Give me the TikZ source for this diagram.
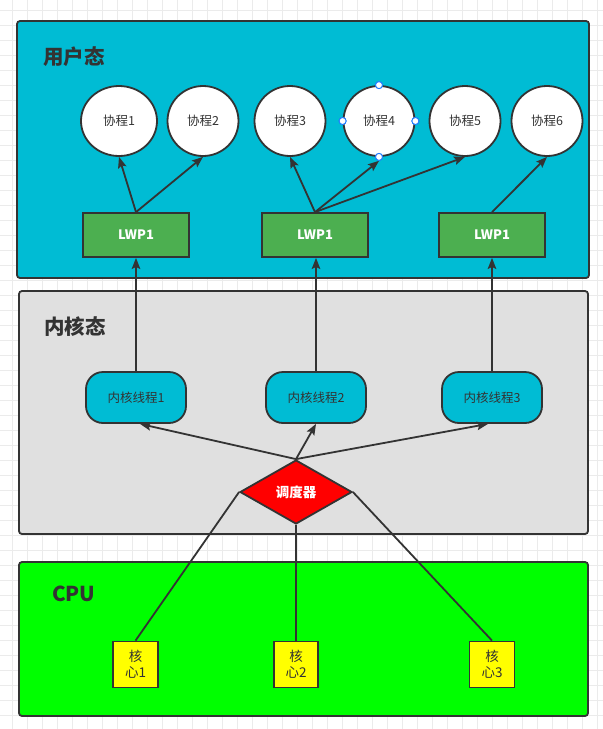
\documentclass[tikz,border=0pt]{standalone}
\usepackage{fontspec}
\setmainfont{Noto Sans CJK SC}
\usetikzlibrary{shapes.geometric,arrows.meta}
\definecolor{stroke}{HTML}{333333}
\definecolor{cyanfill}{HTML}{00BCD4}
\definecolor{grayfill}{HTML}{E0E0E0}
\definecolor{lwpfill}{HTML}{4CAF50}
\definecolor{cpufill}{HTML}{00FF00}
\definecolor{redfill}{HTML}{FF0000}
\definecolor{yelfill}{HTML}{FFFF00}
\definecolor{gridc}{HTML}{EBEBEB}
\definecolor{handle}{HTML}{1E7BFF}
\tikzset{
  region/.style={draw=stroke, line width=1.8pt, rounded corners=3pt, inner sep=0pt},
  title/.style={font=\fontsize{20.5}{24}\selectfont\bfseries, text=stroke, inner sep=0pt},
  coro/.style={ellipse, draw=stroke, fill=white, line width=1.8pt, minimum width=71pt, minimum height=70pt, inner sep=0pt, font=\fontsize{12.5}{14}\selectfont, text=stroke},
  lwp/.style={rectangle, draw=stroke, fill=lwpfill, line width=1.8pt, minimum width=106pt, minimum height=44pt, inner sep=0pt, font=\fontsize{13}{15}\selectfont\bfseries, text=white},
  kthread/.style={rectangle, rounded corners=17pt, draw=stroke, fill=cyanfill, line width=1.8pt, minimum width=100pt, minimum height=51pt, inner sep=0pt, font=\fontsize{12.5}{14}\selectfont, text=stroke},
  sched/.style={diamond, draw=stroke, fill=redfill, line width=1.8pt, minimum width=112pt, minimum height=64pt, inner sep=0pt, font=\fontsize{13.5}{15}\selectfont\bfseries, text=white},
  core/.style={rectangle, draw=stroke, fill=yelfill, line width=1.8pt, minimum width=45pt, minimum height=46pt, inner sep=0pt, font=\fontsize{13.5}{16}\selectfont, text=stroke, align=center},
  arr/.style={draw=stroke, line width=1.8pt, -{Stealth[length=11pt,width=8.5pt,inset=2pt]}},
  plain/.style={draw=stroke, line width=1.8pt},
  hnd/.style={circle, draw=handle, fill=white, line width=0.9pt, minimum size=7pt, inner sep=0pt}
}
\begin{document}
\begin{tikzpicture}[x=1pt,y=-1pt]
\useasboundingbox (0,0) rectangle (603,729);
\fill[white] (0,0) rectangle (603,729);
% background grid
\foreach \gx in {12,27,...,602} \draw[gridc, line width=0.8pt] (\gx,0) -- (\gx,729);
\foreach \gy in {10,25,...,728} \draw[gridc, line width=0.8pt] (0,\gy) -- (603,\gy);

% regions
\node[region, fill=cyanfill, minimum width=572pt, minimum height=257pt] (user) at (303,149.5) {};
\node[region, fill=grayfill, minimum width=569pt, minimum height=243pt] (kernel) at (303.5,412.5) {};
\node[region, fill=cpufill, minimum width=569pt, minimum height=154pt] (cpu) at (303.5,639) {};

\node[title, anchor=west] (tuser) at (43,57) {用户态};
\node[title, anchor=west] (tkernel) at (44,327) {内核态};
\node[title, anchor=west] (tcpu) at (52,594) {CPU};

% coroutines
\node[coro, minimum width=76pt] (c1) at (119,121) {协程1};
\node[coro] (c2) at (203,121) {协程2};
\node[coro] (c3) at (290,121) {协程3};
\node[coro] (c4) at (379,121) {协程4};
\node[coro] (c5) at (465,121) {协程5};
\node[coro] (c6) at (547,121) {协程6};

% selection handles on c4
\node[hnd] (h1) at (c4.north) {};
\node[hnd] (h2) at (c4.south) {};
\node[hnd] (h3) at (c4.west) {};
\node[hnd] (h4) at (c4.east) {};

% LWPs
\node[lwp] (l1) at (136,235) {LWP1};
\node[lwp] (l2) at (315,235) {LWP1};
\node[lwp] (l3) at (492,235) {LWP1};

% kernel threads
\node[kthread] (t1) at (136,397.5) {内核线程1};
\node[kthread] (t2) at (316,397.5) {内核线程2};
\node[kthread] (t3) at (492,397.5) {内核线程3};

% scheduler
\node[sched] (s) at (296,492) {调度器};

% cores
\node[core] (k1) at (135.5,664.5) {核\\心1};
\node[core, minimum width=44pt] (k2) at (296,664.5) {核\\心2};
\node[core] (k3) at (492,664.5) {核\\心3};

% connectors LWP -> coroutines
\draw[arr] (l1.north) -- (c1.south);
\draw[arr] (l1.north) -- (c2.south);
\draw[arr] (l2.north) -- (c3.south);
\draw[arr] (l2.north) -- (h2.south);
\draw[arr] (l2.north) -- (c5.south);
\draw[arr] (l3.north) -- (c6.south);

% kernel threads -> LWP
\draw[arr] (t1.north) -- (l1.south);
\draw[arr] (t2.north) -- (t2.north |- l2.south);
\draw[arr] (t3.north) -- (l3.south);

% scheduler -> kernel threads
\draw[arr] (s.north) -- ([xshift=4pt]t1.south);
\draw[arr] (s.north) -- (t2.south);
\draw[arr] (s.north) -- ([xshift=-4pt]t3.south);

% scheduler -- cores
\draw[plain] (s.west) -- (k1.north);
\draw[plain] (s.south) -- (k2.north);
\draw[plain] (s.east) -- (k3.north);

% redraw handles on top
\node[hnd] at (c4.north) {};
\node[hnd] at (c4.south) {};
\node[hnd] at (c4.west) {};
\node[hnd] at (c4.east) {};
\end{tikzpicture}
\end{document}
